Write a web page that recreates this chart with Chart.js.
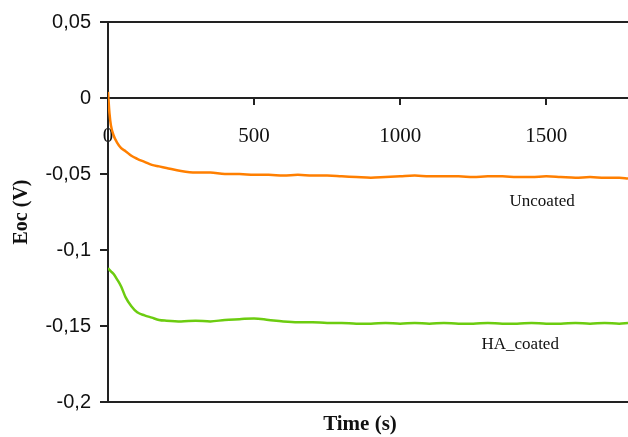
<!DOCTYPE html>
<html>
<head>
<meta charset="utf-8">
<script src="https://cdn.jsdelivr.net/npm/chart.js@4.4.0/dist/chart.umd.min.js"></script>
<style>
  html, body { margin: 0; padding: 0; background: #fff; }
  canvas { display: block; }
</style>
</head>
<body>
<canvas id="eocChart" width="628" height="437"></canvas>
<script>
// Open circuit potential vs time
const timeSec = [0, 5, 10, 20, 30, 45, 60, 80, 100, 125, 150, 175, 200, 250, 300, 350, 400, 450, 500, 550,
  600, 650, 700, 750, 800, 850, 900, 950, 1000, 1050, 1100, 1150, 1200, 1250, 1300, 1350, 1400, 1450,
  1500, 1550, 1600, 1650, 1700, 1750, 1780];
const uncoated = [0.004, -0.010, -0.018, -0.025, -0.029, -0.033, -0.035, -0.038, -0.040, -0.042, -0.044,
  -0.045, -0.046, -0.048, -0.049, -0.049, -0.050, -0.050, -0.0505, -0.0505, -0.051, -0.0505, -0.051,
  -0.051, -0.0515, -0.052, -0.0525, -0.052, -0.0515, -0.051, -0.0515, -0.0515, -0.0515, -0.052, -0.0515,
  -0.0515, -0.052, -0.052, -0.0515, -0.052, -0.0525, -0.052, -0.0525, -0.0525, -0.053];
const haCoated = [-0.112, -0.113, -0.114, -0.116, -0.119, -0.124, -0.131, -0.137, -0.141, -0.143, -0.1445,
  -0.146, -0.1465, -0.147, -0.1465, -0.147, -0.146, -0.1455, -0.145, -0.146, -0.147, -0.1475, -0.1475,
  -0.148, -0.148, -0.1485, -0.1485, -0.148, -0.1485, -0.148, -0.1485, -0.148, -0.1485, -0.1485, -0.148,
  -0.1485, -0.1485, -0.148, -0.1485, -0.1485, -0.148, -0.1485, -0.148, -0.1485, -0.148];
const xTicks = [0, 500, 1000, 1500];
const yTicks = [0.05, 0, -0.05, -0.1, -0.15, -0.2];
const seriesNames = ['Uncoated', 'HA_coated'];
const seriesColors = ['#ff7f00', '#6ccc10'];
// where the series names sit, in data units [time, Eoc]
const nameSpots = [[1486, -0.0684], [1411, -0.1625]];

const axisColor = '#222';
const serif = "'Liberation Serif', 'Times New Roman', serif";
const sans = "'Liberation Sans', Arial, sans-serif";

function toPoints(ys) {
  return timeSec.map((t, i) => ({ x: t, y: ys[i] }));
}

// axis title under the plot and the series names
const textPlugin = {
  id: 'chartTexts',
  afterDraw(chart) {
    const { ctx, chartArea, scales } = chart;
    ctx.save();
    ctx.fillStyle = '#111';
    ctx.textAlign = 'center';
    ctx.textBaseline = 'middle';
    ctx.font = 'bold 21px ' + serif;
    ctx.fillText('Time (s)', (chartArea.left + chartArea.right) / 2 - 8, 425);
    ctx.font = '17px ' + serif;
    seriesNames.forEach((name, i) => {
      ctx.fillText(name, scales.x.getPixelForValue(nameSpots[i][0]), scales.y.getPixelForValue(nameSpots[i][1]));
    });
    ctx.restore();
  }
};

new Chart(document.getElementById('eocChart'), {
  type: 'line',
  data: {
    datasets: [
      { label: seriesNames[0], data: toPoints(uncoated), borderColor: seriesColors[0], borderWidth: 2.5,
        pointRadius: 0, cubicInterpolationMode: 'monotone' },
      { label: seriesNames[1], data: toPoints(haCoated), borderColor: seriesColors[1], borderWidth: 2.5,
        pointRadius: 0, cubicInterpolationMode: 'monotone' }
    ]
  },
  options: {
    responsive: false,
    animation: false,
    layout: { padding: { top: 22, right: 0, bottom: 35, left: 0 } },
    plugins: { legend: { display: false }, tooltip: { enabled: false } },
    scales: {
      x: {
        type: 'linear',
        position: { y: 0 },
        min: 0,
        max: 1780,
        afterBuildTicks: scale => { scale.ticks = xTicks.map(v => ({ value: v })); },
        grid: { drawOnChartArea: false, tickLength: 6, tickColor: axisColor, lineWidth: 2 },
        border: { color: axisColor, width: 2 },
        ticks: { color: '#111', padding: 20, maxRotation: 0, font: { family: serif, size: 21 },
          callback: v => String(v) }
      },
      y: {
        min: -0.2,
        max: 0.05,
        afterBuildTicks: scale => { scale.ticks = yTicks.map(v => ({ value: v })); },
        afterFit: scale => { scale.width = 108; },
        grid: {
          color: c => (c.tick && (c.tick.value === 0.05 || c.tick.value === -0.2)) ? axisColor : 'rgba(0,0,0,0)',
          lineWidth: 2,
          tickLength: 8,
          tickColor: axisColor
        },
        border: { color: axisColor, width: 2 },
        ticks: {
          color: '#111',
          padding: 9,
          font: { family: sans, size: 20 },
          callback: v => String(Math.round(v * 100) / 100).replace('.', ',')
        },
        title: { display: true, text: 'Eoc (V)', color: '#111', padding: { top: 10, bottom: 0 },
          font: { family: serif, size: 20, weight: 'bold' } }
      }
    }
  },
  plugins: [textPlugin]
});
</script>
</body>
</html>
